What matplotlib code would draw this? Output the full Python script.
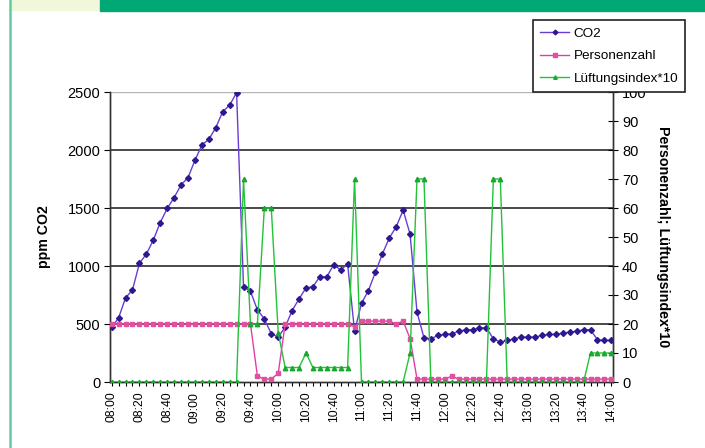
import numpy as np
import matplotlib.pyplot as plt
from matplotlib.patches import Rectangle
from matplotlib.lines import Line2D

plt.rcParams['font.family'] = ['Liberation Sans', 'DejaVu Sans']

# Messwerte alle 5 Minuten, 08:00 bis 14:00
minutes = np.arange(0, 361, 5)
co2 = [470, 553, 725, 794, 1023, 1103, 1223, 1375, 1496, 1590, 1699, 1762, 1911,
       2043, 2092, 2192, 2330, 2387, 2493,
       822, 782, 622, 544, 415, 387, 473, 616, 716, 811, 822, 908, 908, 1011, 966, 1017, 438,
       679, 788, 946, 1103, 1241, 1338, 1481,
       1275, 602, 381, 372, 401, 410, 415, 438, 450, 450, 467, 467,
       372, 344, 358, 372, 387, 387, 387, 401, 410, 410, 421, 430, 438, 450, 450, 364, 358, 358]
personen = ([20] * 21 + [2, 1, 1, 3] + [20] * 10 + [19] + [21] * 5 + [20, 21, 15, 1]
            + [1, 1, 1, 1, 2] + [1] * 23)
lueftung = ([0] * 19 + [70, 20, 20, 60, 60, 17, 5, 5, 5, 10, 5, 5, 5, 5, 5, 5, 70]
            + [0] * 7 + [10, 70, 70] + [0] * 9 + [70, 70] + [0] * 12 + [10] * 4)
tick_labels = ['%02d:%02d' % (8 + m // 60, m % 60) for m in range(0, 361, 20)]

fig = plt.figure(figsize=(7.05, 4.48), dpi=100)

# Seitenrahmen / Kopfzeile
fig.patches.append(Rectangle((10 / 705, 1 - 10 / 448), 90 / 705, 10 / 448,
                             transform=fig.transFigure, color='#f1f7da', zorder=0))
fig.patches.append(Rectangle((100 / 705, 1 - 11 / 448), 605 / 705, 11 / 448,
                             transform=fig.transFigure, color='#00a876', zorder=0))
fig.lines.append(Line2D([10 / 705, 10 / 705], [0, 1], transform=fig.transFigure,
                        color='#5fcca2', lw=1.8))

ax = fig.add_axes([110 / 705, 1 - 382 / 448, 503 / 705, 290 / 448])
ax2 = ax.twinx()

ax.plot(minutes, co2, color='#6a3cd6', lw=1.0, marker='D', ms=3,
        mfc='#2e1890', mec='#2e1890', label='CO2', zorder=3)
ax2.plot(minutes, personen, color='#e23ea6', lw=1.0, marker='s', ms=3.2,
         mfc='#e0509e', mec='#e0509e', label='Personenzahl', zorder=3)
ax2.plot(minutes, lueftung, color='#22c23a', lw=1.0, marker='^', ms=3.2,
         mfc='#1aa82e', mec='#1aa82e', label='Lüftungsindex*10', zorder=4)

ax.set_xlim(-1.2, 361.2)
ax.set_ylim(0, 2500)
ax2.set_ylim(0, 100)

for v in [500, 1000, 1500, 2000]:
    ax.axhline(v, color='#3a3a3a', lw=1.3, zorder=1)
ax.axhline(2500, color='#b5b5b5', lw=1.0, zorder=1)

ax.set_xticks(minutes, minor=True)
ax.set_xticks(range(0, 361, 20))
ax.set_xticklabels(tick_labels, rotation=90, fontsize=8.7)
ax.tick_params(axis='x', which='both', direction='out', length=3, width=0.8, pad=4)
ax.set_yticks(range(0, 2501, 500))
ax.tick_params(axis='y', direction='out', length=4, labelsize=10.5, pad=3)
ax2.set_yticks(range(0, 101, 10))
ax2.tick_params(axis='y', direction='inout', length=7, labelsize=10.5, pad=3)

for a in (ax, ax2):
    a.spines['top'].set_visible(False)
    for s in ('left', 'right', 'bottom'):
        a.spines[s].set_color('#333333')
        a.spines[s].set_linewidth(1.0)

ax.set_ylabel('ppm CO2', fontsize=10.2, fontweight='bold', labelpad=12)
ax2.set_ylabel('Personenzahl; Lüftungsindex*10', fontsize=10.3, fontweight='bold',
               rotation=270, labelpad=7, va='bottom')

# Legende liegt wie im Original teilweise über der Beschriftung "100"
h1, l1 = ax.get_legend_handles_labels()
h2, l2 = ax2.get_legend_handles_labels()
leg = fig.legend(h1 + h2, l1 + l2, loc='upper left',
                 bbox_to_anchor=(533 / 705, 1 - 20 / 448), fontsize=9.7,
                 frameon=True, fancybox=False, edgecolor='#222222', framealpha=1,
                 handlelength=2.1, borderpad=0.55, labelspacing=0.75,
                 handletextpad=0.35, borderaxespad=0, markerscale=0.8)
leg.get_frame().set_linewidth(1.2)
leg.set_zorder(10)

fig.savefig('out.png', dpi=100)
